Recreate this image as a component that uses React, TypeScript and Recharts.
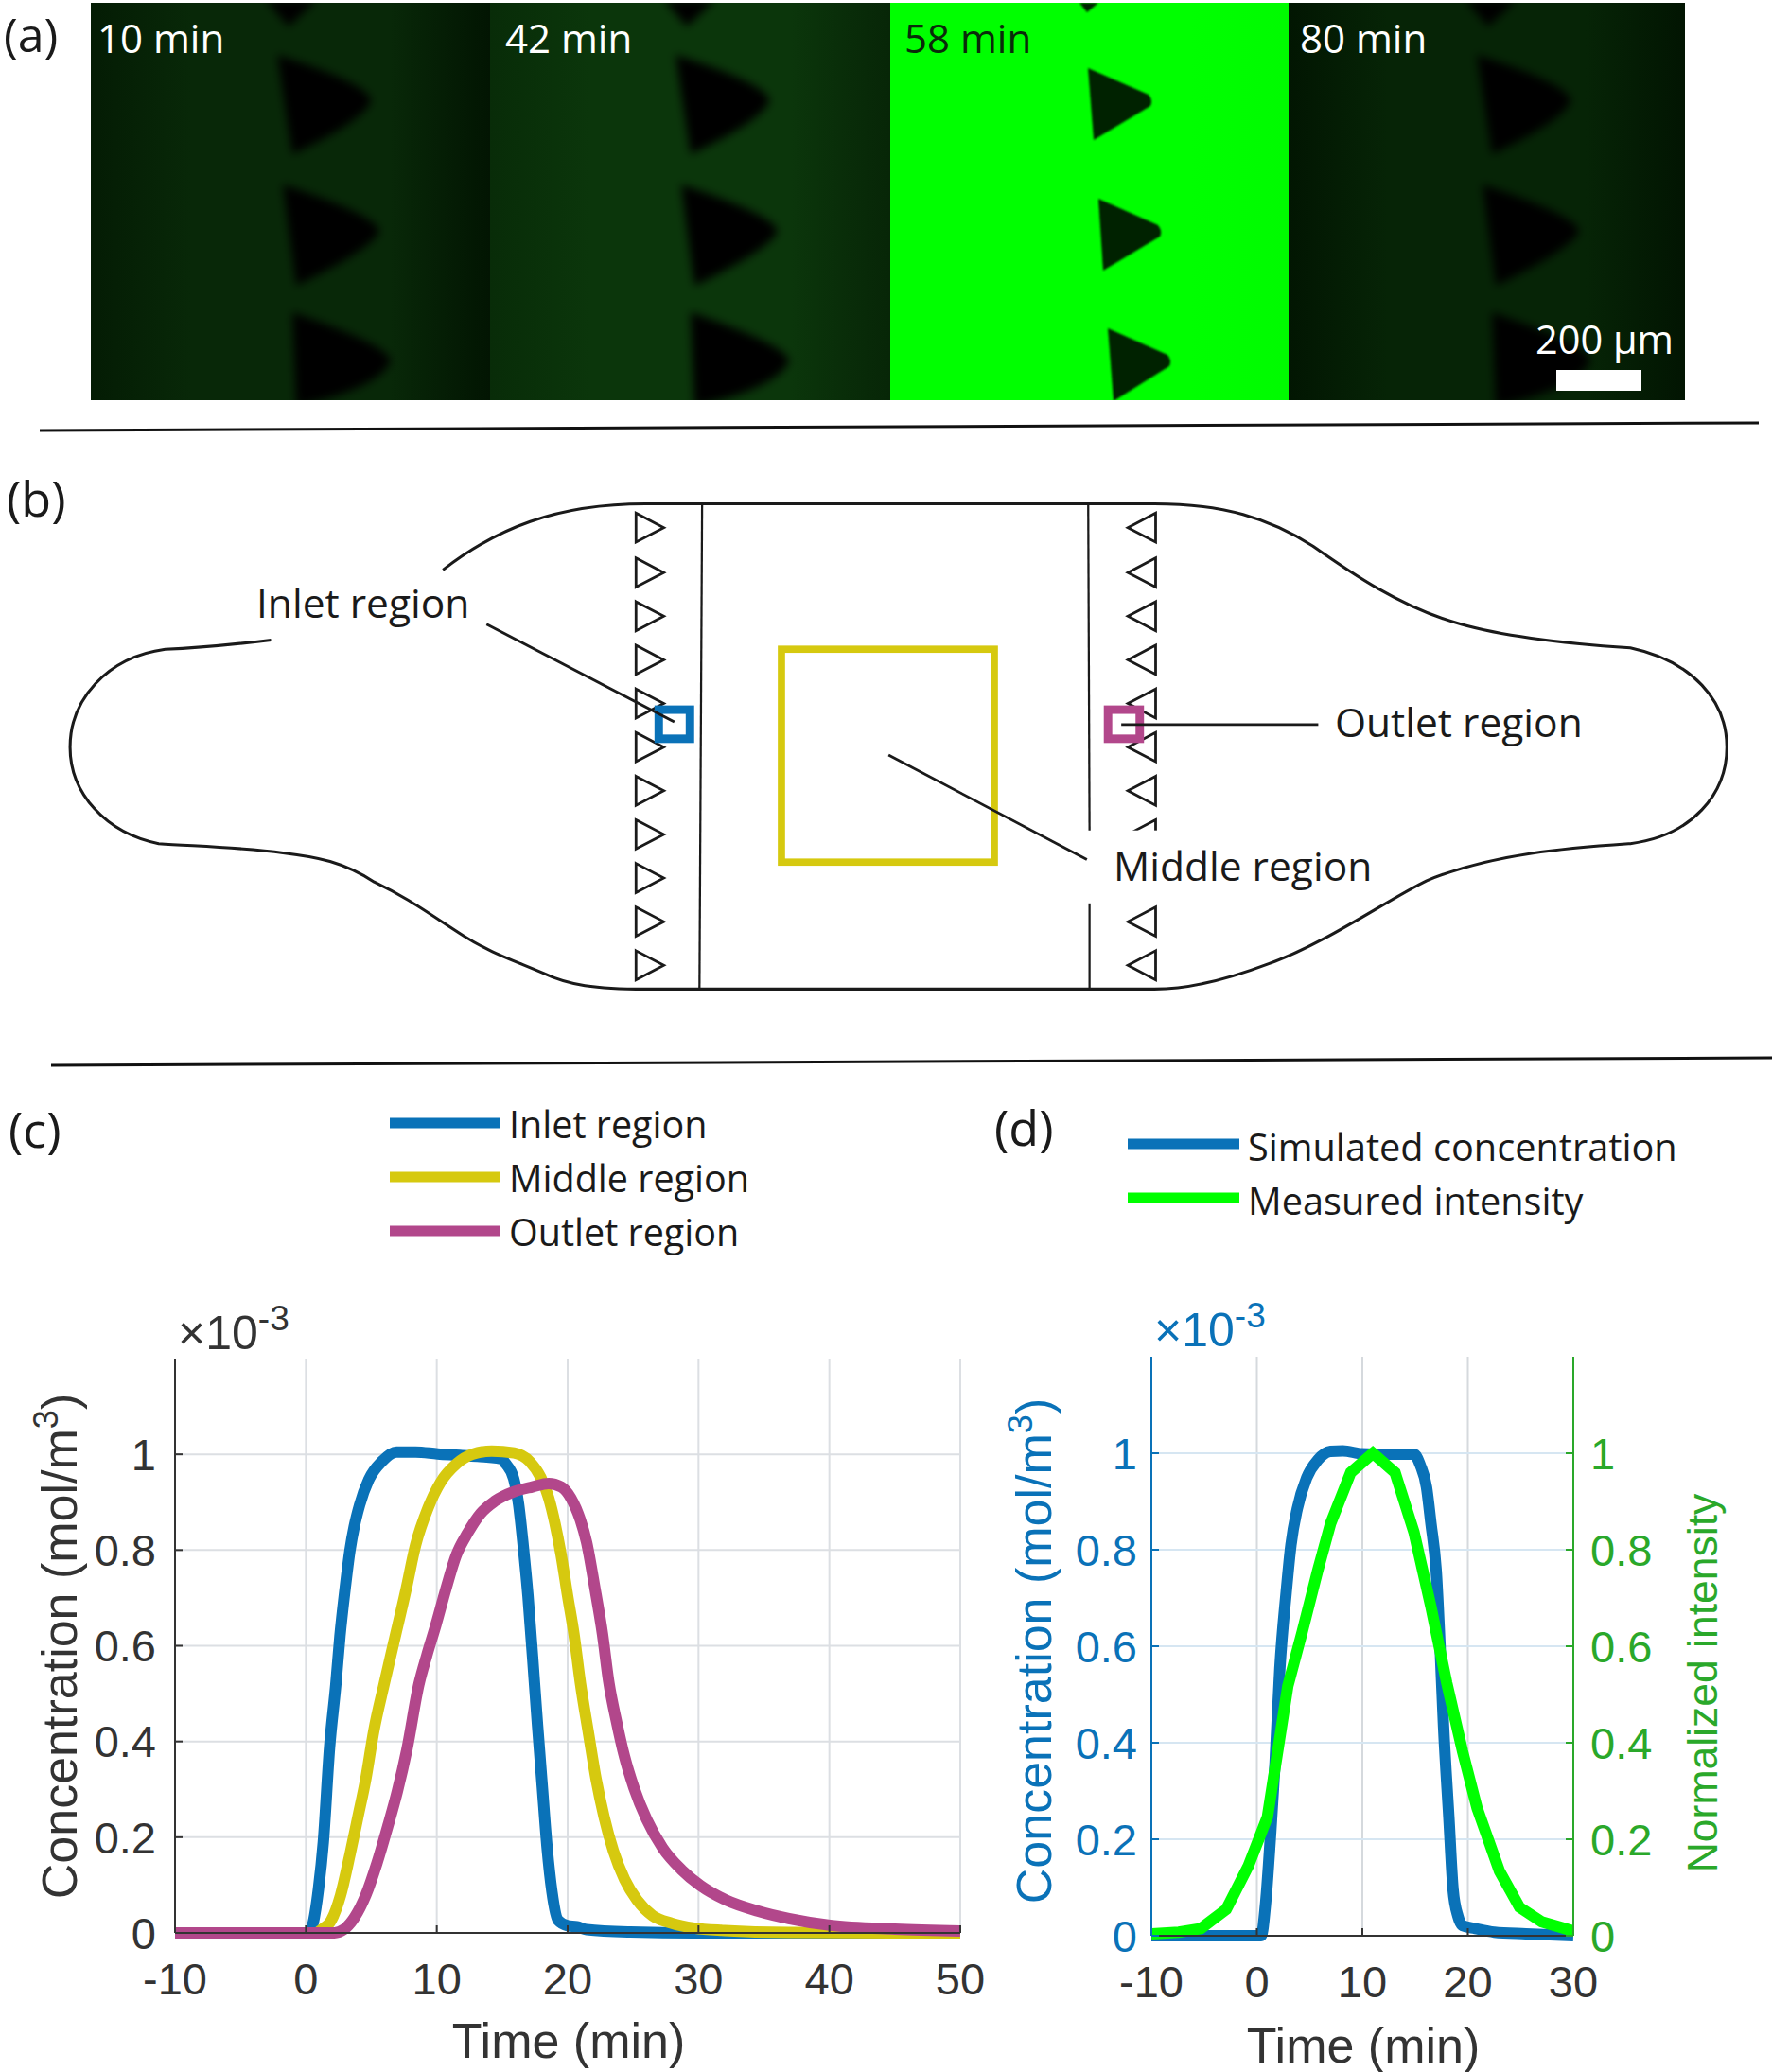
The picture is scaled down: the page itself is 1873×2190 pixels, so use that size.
import React from "react";
import { LineChart, Line, XAxis, YAxis, CartesianGrid } from "recharts";

const BLUE = "#0a72b8";
const YELLOW = "#d6c90f";
const MAGENTA = "#b2478b";
const GREEN = "#00ff00";
const RIGHT_GREEN = "#2aa82a";
const SANS = "'Liberation Sans', Arial, sans-serif";
const LABEL = "'Open Sans', sans-serif";

// panel (c)
const inletTimes = [-10, 0.2, 0.48, 0.96, 1.33, 1.81, 2.29, 2.6, 3, 3.37, 3.7, 4.1, 4.8, 5.8, 6.92, 8.38, 10.07, 11.77, 14.9, 15.28, 15.88, 16.25, 16.6, 16.97, 17.47, 17.7, 18.07, 18.43, 18.8, 19.28, 20, 20.7, 21.45, 24.8, 29.66, 50];
const inletValues = [0, 0, 0.013, 0.092, 0.19, 0.388, 0.52, 0.62, 0.72, 0.8, 0.85, 0.894, 0.947, 0.985, 1.005, 1.005, 1.001, 0.998, 0.991, 0.98, 0.949, 0.896, 0.81, 0.704, 0.52, 0.434, 0.303, 0.178, 0.086, 0.026, 0.015, 0.013, 0.007, 0.002, 0, 0];
const middleTimes = [-10, 0.8, 1.2, 1.93, 2.65, 3.37, 3.98, 4.58, 5.18, 5.98, 6.7, 7.65, 8.38, 9.35, 10.3, 11.5, 12.7, 14.2, 15.9, 17.1, 17.94, 18.55, 19.03, 19.5, 20, 20.48, 20.97, 21.57, 22.17, 22.78, 23.5, 24.35, 25.3, 26.5, 27.97, 29.66, 32, 36.9, 50];
const middleValues = [0, 0, 0.007, 0.026, 0.079, 0.164, 0.243, 0.322, 0.421, 0.52, 0.605, 0.717, 0.81, 0.889, 0.942, 0.98, 1.0, 1.007, 1.003, 0.985, 0.952, 0.909, 0.856, 0.79, 0.704, 0.625, 0.523, 0.421, 0.322, 0.243, 0.171, 0.112, 0.069, 0.036, 0.02, 0.01, 0.005, 0.001, 0];
const outletTimes = [-10, 2.17, 2.89, 3.73, 4.58, 5.42, 6.27, 6.99, 7.71, 8.64, 9.23, 9.95, 10.68, 11.5, 12.37, 13.34, 14.43, 15.9, 17.3, 18.55, 19.5, 20.24, 20.97, 21.45, 22.06, 22.66, 23.14, 23.74, 24.35, 25.07, 26.04, 27.25, 28.7, 30.14, 32.08, 34.5, 36.9, 40.05, 45, 50];
const outletValues = [0, 0, 0.007, 0.033, 0.079, 0.145, 0.224, 0.296, 0.382, 0.52, 0.579, 0.645, 0.717, 0.79, 0.836, 0.876, 0.902, 0.922, 0.932, 0.939, 0.932, 0.909, 0.863, 0.816, 0.724, 0.625, 0.525, 0.441, 0.368, 0.303, 0.237, 0.178, 0.132, 0.099, 0.069, 0.046, 0.03, 0.016, 0.008, 0.004];

// panel (d)
const simTimes = [-10, 0.4, 0.84, 1.3, 1.73, 2.18, 2.78, 3.23, 3.83, 4.72, 5.77, 6.97, 8.16, 9.96, 12.35, 14.9, 15.5, 16.08, 16.5, 17, 17.4, 17.7, 18.2, 18.6, 19.07, 19.5, 20.7, 22.5, 25.5, 30];
const simValues = [0, 0, 0.07, 0.21, 0.36, 0.554, 0.712, 0.81, 0.885, 0.949, 0.986, 1.004, 1.005, 0.999, 0.998, 0.998, 0.975, 0.93, 0.855, 0.757, 0.585, 0.434, 0.246, 0.096, 0.04, 0.021, 0.015, 0.0075, 0.004, 0];
const measuredTimes = [-10, -7.4, -5.3, -2.9, -0.8, 1, 2.03, 2.93, 4.3, 5.77, 7, 8.9, 11, 13.1, 14.9, 16.5, 18, 19.5, 20.87, 23, 24.9, 27, 30];
const measuredValues = [0.004, 0.0075, 0.015, 0.055, 0.145, 0.246, 0.39, 0.517, 0.63, 0.757, 0.855, 0.96, 1.0, 0.96, 0.836, 0.682, 0.524, 0.382, 0.265, 0.134, 0.059, 0.029, 0.01];

const timeTicksC = [-10, 0, 10, 20, 30, 40, 50];
const timeTicksD = [-10, 0, 10, 20, 30];
const concTicks = [0, 0.2, 0.4, 0.6, 0.8, 1];

const zip = (ts: number[], vs: number[]) => ts.map((t, i) => ({ t, v: vs[i] }));

// panel (a) / (b) schematic numbers
const frames = [
  { x: 96, w: 422, label: "10 min", textX: 103, color: "#fff", grad: "g1", dx: 0 },
  { x: 518, w: 423, label: "42 min", textX: 534, color: "#fff", grad: "g2", dx: 421 },
  { x: 941, w: 421, label: "58 min", textX: 956, color: "#0a2a0a", grad: "g3", dx: 0 },
  { x: 1362, w: 419, label: "80 min", textX: 1374, color: "#fff", grad: "g4", dx: 1268 },
];
const softTriangles = [
  "M281,0 L335,0 L305,28 Z",
  "M293,58 Q395,90 392,108 Q380,130 309,163 Z",
  "M299,195 Q400,228 401,245 Q390,265 313,302 Z",
  "M309,330 Q412,365 413,382 Q400,410 313,430 Z",
];
const sharpTriangles = [
  "M1141,3 L1161,3 L1149,13 Z",
  "M1150,72 L1214,100 Q1219,106 1216,112 L1156,148 Z",
  "M1161,210 L1224,238 Q1229,244 1226,250 L1166,286 Z",
  "M1171,347 L1234,375 Q1239,381 1236,387 L1177,424 Z",
];
const leftRows = [399, 433, 466, 499, 532, 565, 598, 631, 664, 697, 730];
const rightRows = [399, 433, 466, 499, 532, 565, 598, 631, 697, 730];

const S = 1.3976;
const outline =
  "M335,431 C375,400 420,381 488,381 L873,381 C925,381 960,392 993,413 C1020,432 1060,460 1105,472 C1140,482 1190,487 1233,490 C1280,500 1306,530 1306,565 C1306,600 1280,632 1233,638 C1190,641 1130,645 1079,666 C1050,680 1000,715 959,729 C930,740 900,748 873,748 L488,748 C450,748 430,745 411,736 C385,725 370,720 351,708 C320,688 310,680 283,667 C260,652 240,648 214,645 C185,641 150,640 120,638 C80,630 53,600 53,565 C53,530 80,497 125,491 C150,490 180,487 205,484";

const txt = (x: number, y: number, s: string, size = 42.5, fill = "#1a1a1a", font = LABEL) => (
  <text x={x} y={y} fontSize={size} fill={fill} fontFamily={font}>
    {s}
  </text>
);

const gradient = (id: string, edge: string, mid: string, far: string) => (
  <linearGradient id={id} x1="0" x2="1" y1="0" y2="0">
    <stop offset="0%" stopColor={edge} />
    <stop offset="25%" stopColor={mid} />
    <stop offset="75%" stopColor={mid} />
    <stop offset="100%" stopColor={far} />
  </linearGradient>
);

const Background = () => (
  <svg width={1873} height={2190} style={{ position: "absolute", left: 0, top: 0 }}>
    <defs>
      <filter id="soft" x="-30%" y="-30%" width="160%" height="160%">
        <feGaussianBlur stdDeviation="5" />
      </filter>
      <filter id="sharp" x="-30%" y="-30%" width="160%" height="160%">
        <feGaussianBlur stdDeviation="1.2" />
      </filter>
      {gradient("g1", "#041c04", "#082808", "#021502")}
      {gradient("g2", "#082c08", "#0b360b", "#072607")}
      {gradient("g3", "#00ff00", "#00ff00", "#00fb00")}
      {gradient("g4", "#021602", "#062406", "#021502")}
      {frames.map((f, i) => (
        <clipPath id={`clip${i}`} key={i}>
          <rect x={f.x} y={3} width={f.w} height={420} />
        </clipPath>
      ))}
    </defs>

    {/* panel a */}
    {frames.map((f, i) => (
      <g key={f.label} clipPath={`url(#clip${i})`}>
        <rect x={f.x} y={3} width={f.w} height={420} fill={`url(#${f.grad})`} />
        {i === 2
          ? sharpTriangles.map((d) => <path key={d} d={d} fill="#032403" filter="url(#sharp)" />)
          : softTriangles.map((d) => <path key={d} d={d} transform={`translate(${f.dx},0)`} fill="#000" filter="url(#soft)" />)}
      </g>
    ))}
    {frames.map((f) => (
      <text key={f.label} x={f.textX} y={56} fontSize={42} fill={f.color} fontFamily={LABEL}>
        {f.label}
      </text>
    ))}
    {txt(1623, 374, "200 µm", 41.5, "#fff")}
    <rect x={1645} y={391} width={90} height={22} fill="#fff" />
    {txt(4, 55, "(a)", 50)}
    <line x1={42} y1={455} x2={1859} y2={447} stroke="#111" strokeWidth={3} />

    {/* panel b */}
    {txt(7, 546, "(b)", 52)}
    <g transform={`scale(${S})`} fill="none" stroke="#1a1a1a" strokeWidth={2}>
      <path d={outline} strokeWidth={2.2} />
      <line x1={531} y1={381} x2={529} y2={747} strokeWidth={1.6} />
      <line x1={824} y1={683} x2={824} y2={747} strokeWidth={1.6} />
      {leftRows.map((y) => (
        <polygon key={y} points={`481,${y - 11} 502,${y} 481,${y + 11}`} />
      ))}
      {rightRows.map((y) => (
        <polygon key={y} points={`874,${y - 11} 853,${y} 874,${y + 11}`} />
      ))}
      <rect x={820} y={628} width={60} height={55} fill="#fff" stroke="none" />
      <line x1={823} y1={381} x2={824} y2={628} strokeWidth={1.6} />
      <rect x={591} y={491} width={161} height={161} stroke={YELLOW} strokeWidth={5.5} />
      <rect x={498.2} y={536.7} width={23.6} height={22} stroke={BLUE} strokeWidth={6.4} />
      <rect x={838} y={536.7} width={24} height={22} stroke={MAGENTA} strokeWidth={6.4} />
      <line x1={368} y1={472} x2={510} y2={546} />
      <line x1={848} y1={548} x2={997} y2={548} />
      <line x1={672} y1={571} x2={822} y2={650} />
    </g>
    {txt(271, 653, "Inlet region")}
    {txt(1411, 779, "Outlet region")}
    {txt(1177, 931, "Middle region")}
    <line x1={54} y1={1126} x2={1873} y2={1118} stroke="#111" strokeWidth={3} />

    {/* legends */}
    {txt(9, 1213, "(c)", 52)}
    {txt(1051, 1211, "(d)", 52)}
    <g strokeWidth={11}>
      <line x1={412} y1={1187} x2={528} y2={1187} stroke={BLUE} />
      <line x1={412} y1={1244} x2={528} y2={1244} stroke={YELLOW} />
      <line x1={412} y1={1301} x2={528} y2={1301} stroke={MAGENTA} />
      <line x1={1192} y1={1209} x2={1310} y2={1209} stroke={BLUE} />
      <line x1={1192} y1={1266} x2={1310} y2={1266} stroke={GREEN} />
    </g>
    {txt(538, 1203, "Inlet region", 39.5)}
    {txt(538, 1260, "Middle region", 39.5)}
    {txt(538, 1317, "Outlet region", 39.5)}
    {txt(1319, 1227, "Simulated concentration", 39.7)}
    {txt(1319, 1284, "Measured intensity", 39.7)}

    {/* axis captions */}
    <text x={188} y={1426} fontSize={50} fill="#333" fontFamily={SANS}>
      ×10<tspan fontSize={37} dy={-20}>-3</tspan>
    </text>
    <text x={1220} y={1423} fontSize={50} fill={BLUE} fontFamily={SANS}>
      ×10<tspan fontSize={37} dy={-20}>-3</tspan>
    </text>
    <text transform="translate(81,1740) rotate(-90)" textAnchor="middle" fontSize={52} fill="#333" fontFamily={SANS}>
      Concentration (mol/m<tspan fontSize={36} dy={-20}>3</tspan><tspan dy={20}>)</tspan>
    </text>
    <text transform="translate(1111,1745) rotate(-90)" textAnchor="middle" fontSize={52} fill={BLUE} fontFamily={SANS}>
      Concentration (mol/m<tspan fontSize={36} dy={-20}>3</tspan><tspan dy={20}>)</tspan>
    </text>
    <text transform="translate(1815,1779) rotate(-90)" textAnchor="middle" fontSize={44.5} fill={RIGHT_GREEN} fontFamily={SANS}>
      Normalized intensity
    </text>
    <text x={601} y={2175} textAnchor="middle" fontSize={52} fill="#333" fontFamily={SANS}>Time (min)</text>
    <text x={1441} y={2180} textAnchor="middle" fontSize={52} fill="#333" fontFamily={SANS}>Time (min)</text>
  </svg>
);

const ConcentrationChart = () => (
  <div style={{ position: "absolute", left: 0, top: 1400 }}>
    <LineChart width={1100} height={760} margin={{ top: 36, right: 85, bottom: 0, left: 85 }}>
      <CartesianGrid stroke="#dcdfe3" strokeWidth={2} syncWithTicks />
      <XAxis
        dataKey="t"
        type="number"
        domain={[-10, 50]}
        ticks={timeTicksC}
        height={117}
        interval={0}
        tickSize={-8}
        tickMargin={40}
        stroke="#333"
        strokeWidth={2}
        tick={{ fontSize: 47, fill: "#333", fontFamily: SANS }}
      />
      <YAxis
        domain={[0, 1.2]}
        ticks={concTicks}
        width={100}
        interval={0}
        tickSize={-8}
        tickMargin={28}
        stroke="#333"
        strokeWidth={2}
        tick={{ fontSize: 47, fill: "#333", fontFamily: SANS }}
      />
      <Line data={zip(inletTimes, inletValues)} dataKey="v" type="monotone" stroke={BLUE} strokeWidth={12} dot={false} isAnimationActive={false} />
      <Line data={zip(middleTimes, middleValues)} dataKey="v" type="monotone" stroke={YELLOW} strokeWidth={12} dot={false} isAnimationActive={false} />
      <Line data={zip(outletTimes, outletValues)} dataKey="v" type="monotone" stroke={MAGENTA} strokeWidth={12} dot={false} isAnimationActive={false} />
    </LineChart>
  </div>
);

const IntensityChart = () => (
  <div style={{ position: "absolute", left: 1000, top: 1400 }}>
    <LineChart width={873} height={760} margin={{ top: 34, right: 100, bottom: 0, left: 100 }}>
      <CartesianGrid stroke="#d5d9dd" strokeWidth={2} horizontal={false} syncWithTicks />
      <CartesianGrid stroke="#d6e6f2" strokeWidth={2} vertical={false} syncWithTicks />
      <XAxis
        dataKey="t"
        type="number"
        domain={[-10, 30]}
        ticks={timeTicksD}
        allowDataOverflow
        height={114}
        interval={0}
        tickSize={-8}
        tickMargin={40}
        stroke="#333"
        strokeWidth={2}
        tick={{ fontSize: 47, fill: "#333", fontFamily: SANS }}
      />
      <XAxis xAxisId="top" orientation="top" dataKey="t" type="number" domain={[-10, 30]} ticks={timeTicksD} height={0} tickSize={-8} tick={false} stroke="#333" strokeWidth={2} />
      <YAxis
        domain={[0, 1.2]}
        ticks={concTicks}
        width={117}
        interval={0}
        tickSize={-8}
        tickMargin={23}
        stroke={BLUE}
        strokeWidth={2}
        tick={{ fontSize: 47, fill: BLUE, fontFamily: SANS }}
      />
      <YAxis
        yAxisId="right"
        orientation="right"
        domain={[0, 1.2]}
        ticks={concTicks}
        width={110}
        interval={0}
        tickSize={-8}
        tickMargin={26}
        stroke={RIGHT_GREEN}
        strokeWidth={2}
        tick={{ fontSize: 47, fill: RIGHT_GREEN, fontFamily: SANS }}
      />
      <Line data={zip(simTimes, simValues)} dataKey="v" type="monotone" stroke={BLUE} strokeWidth={12} dot={false} isAnimationActive={false} />
      <Line data={zip(measuredTimes, measuredValues)} yAxisId="right" dataKey="v" type="linear" stroke={GREEN} strokeWidth={12} dot={false} isAnimationActive={false} />
    </LineChart>
  </div>
);

export default function App() {
  return (
    <div style={{ position: "absolute", left: 0, top: 0, width: 1873, height: 2190, background: "#fff", overflow: "hidden" }}>
      <Background />
      <ConcentrationChart />
      <IntensityChart />
    </div>
  );
}
